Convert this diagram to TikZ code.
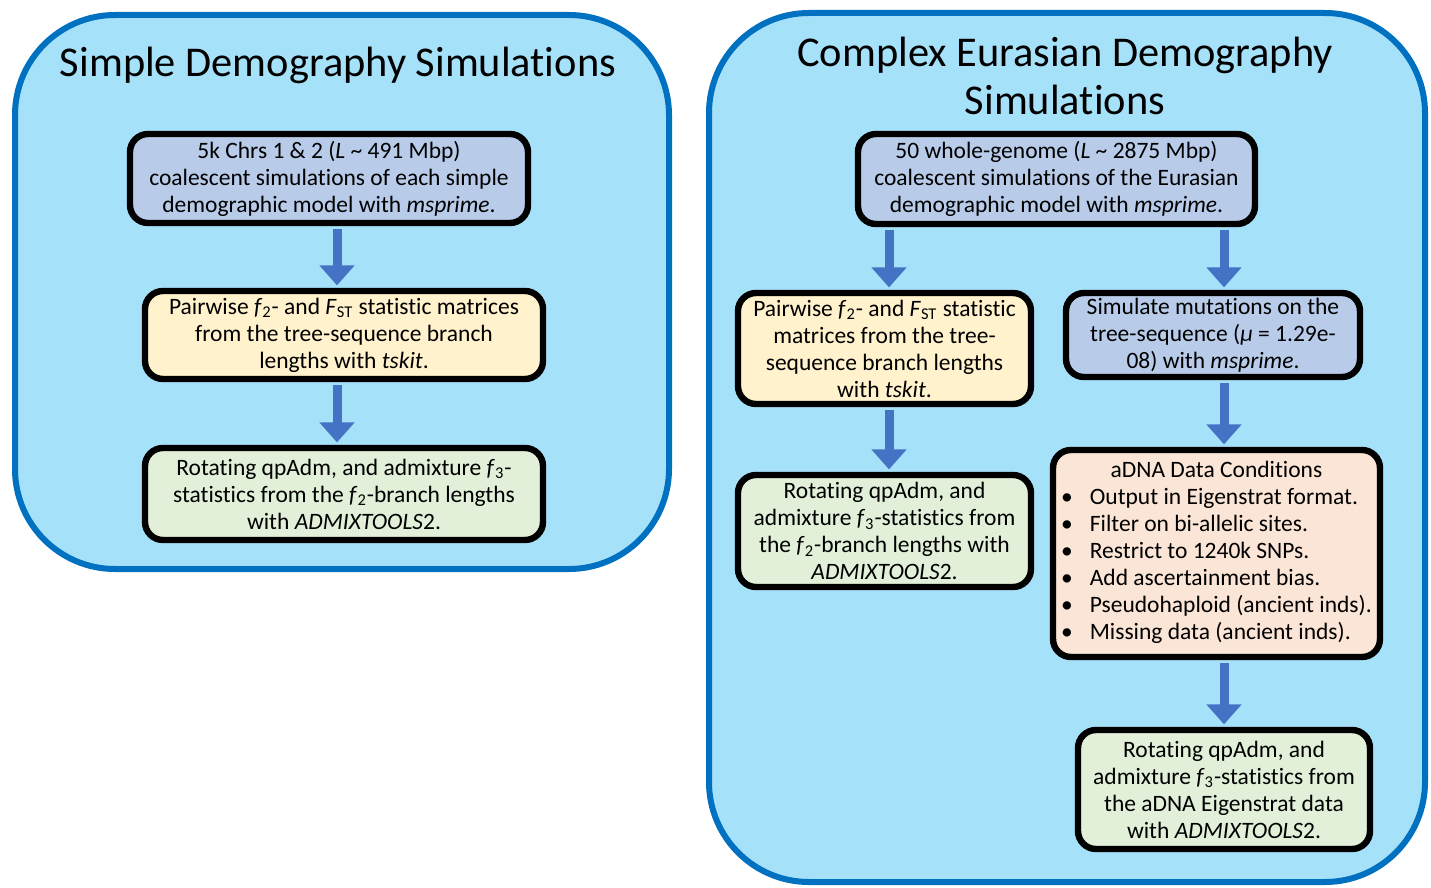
\documentclass[tikz,border=0pt]{standalone}
\usepackage{fontspec}
\setmainfont{Carlito}[Ligatures=NoCommon]
\usepackage{xcolor}
\usepackage{tikz}
\usetikzlibrary{arrows.meta, calc}
\definecolor{panelblue}{HTML}{A6E1FA}
\definecolor{paneledge}{HTML}{0070C0}
\definecolor{simblue}{HTML}{B8CCEA}
\definecolor{statyellow}{HTML}{FFF2CC}
\definecolor{fitgreen}{HTML}{E2F0D9}
\definecolor{adnapeach}{HTML}{FBE5D6}
\definecolor{arrowblue}{HTML}{4472C4}
\tikzstyle{panel} = [draw=paneledge, line width=3pt, fill=panelblue, rounded corners=50pt]
\tikzstyle{paneltitle} = [align=center, font=\fontsize{21.2}{24}\selectfont]
\tikzstyle{stage} = [rectangle, rounded corners=9pt, draw=black, line width=3.2pt, align=center, inner sep=0pt, font=\fontsize{11.75}{13.5}\selectfont]
\tikzstyle{flowarrow} = [draw=arrowblue, line width=4.5pt, -{Triangle[width=17pt,length=10pt]}, shorten <=1.6pt, shorten >=1.2pt]
\newcommand{\fsub}[2]{\textit{#1}\textsubscript{#2}}

\begin{document}
\begin{tikzpicture}[x=0.5pt, y=-0.5pt]
      \useasboundingbox (0,0) rectangle (1431,888);

      % Panels
      \draw[panel] (15,15) rectangle (669,569);
      \draw[panel] (709,13) rectangle (1425,882);
      \node[paneltitle] (simpletitle) at (338,65) {Simple Demography Simulations};
      \node[paneltitle] (complextitle) at (1065,76) {Complex Eurasian Demography\\Simulations};

      % Simple demography column
      \node[stage, fill=simblue, minimum width=199pt, minimum height=44.5pt] (L1) at (329,178.5) {
        5k Chrs 1 \& 2 (\textit{L} \textasciitilde\ 491 Mbp)\\coalescent simulations of each simple\\demographic model with \textit{msprime}.};
      \node[stage, fill=statyellow, minimum width=199pt, minimum height=44pt] (L2) at (344,335) {
        Pairwise \fsub{f}{2}- and \fsub{F}{ST} statistic matrices\\from the tree-sequence branch\\lengths with \textit{tskit}.};
      \node[stage, fill=fitgreen, minimum width=199pt, minimum height=46pt] (L3) at (344,494) {
        Rotating qpAdm, and admixture \fsub{f}{3}-\\statistics from the \fsub{f}{2}-branch lengths\\with \textit{ADMIXTOOLS}2.};

      % Complex demography columns
      \node[stage, fill=simblue, minimum width=198.5pt, minimum height=45pt] (R1) at (1056.5,179) {
        50 whole-genome (\textit{L} \textasciitilde\ 2875 Mbp)\\coalescent simulations of the Eurasian\\demographic model with \textit{msprime}.};
      \node[stage, fill=statyellow, minimum width=146.5pt, minimum height=55.5pt] (R2) at (884.5,348.5) {
        Pairwise \fsub{f}{2}- and \fsub{F}{ST} statistic\\matrices from the tree-\\sequence branch lengths\\with \textit{tskit}.};
      \node[stage, fill=simblue, minimum width=147pt, minimum height=42pt] (R3) at (1213,335) {
        Simulate mutations on the\\tree-sequence (\textit{μ} = 1.29e-\\08) with \textit{msprime}.};
      \node[stage, fill=fitgreen, minimum width=146.5pt, minimum height=56pt] (R4) at (884.5,531) {
        Rotating qpAdm, and\\admixture \fsub{f}{3}-statistics from\\the \fsub{f}{2}-branch lengths with\\\textit{ADMIXTOOLS}2.};
      \node[stage, fill=adnapeach, minimum width=163.5pt, minimum height=103.5pt] (R5) at (1216.5,553.5) {
        \begin{tabular}{@{}l@{\hspace{8.5pt}}l@{}}
          \multicolumn{2}{c}{aDNA Data Conditions}\\
          • & Output in Eigenstrat format.\\
          • & Filter on bi-allelic sites.\\
          • & Restrict to 1240k SNPs.\\
          • & Add ascertainment bias.\\
          • & Pseudohaploid (ancient inds).\\
          • & Missing data (ancient inds).
        \end{tabular}};
      \node[stage, fill=fitgreen, minimum width=146pt, minimum height=59.5pt] (R6) at (1224,789.5) {
        Rotating qpAdm, and\\admixture \fsub{f}{3}-statistics from\\the aDNA Eigenstrat data\\with \textit{ADMIXTOOLS}2.};

      % Arrow columns
      \coordinate (lcol) at (337,0);
      \coordinate (mcol) at (889,0);
      \coordinate (rcol) at (1224,0);

      \draw[flowarrow] (L1.south -| lcol) -- (L2.north -| lcol);
      \draw[flowarrow] (L2.south -| lcol) -- (L3.north -| lcol);
      \draw[flowarrow] (R1.south -| mcol) -- (R2.north -| mcol);
      \draw[flowarrow] (R1.south -| rcol) -- (R3.north -| rcol);
      \draw[flowarrow] (R2.south -| mcol) -- (R4.north -| mcol);
      \draw[flowarrow] (R3.south -| rcol) -- (R5.north -| rcol);
      \draw[flowarrow] (R5.south -| rcol) -- (R6.north -| rcol);
    \end{tikzpicture}
\end{document}
